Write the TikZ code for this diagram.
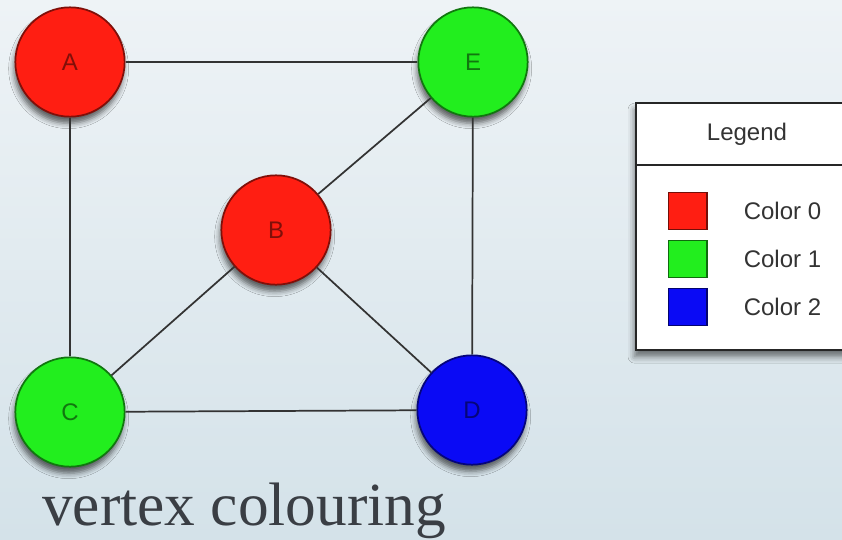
\documentclass[tikz,border=0pt]{standalone}
\usepackage{fontspec}
\setmainfont{Liberation Serif}
\setsansfont{Liberation Sans}
\usetikzlibrary{positioning,shadows.blur}

\definecolor{vred}{RGB}{255,30,18}
\definecolor{vgreen}{RGB}{34,238,30}
\definecolor{vblue}{RGB}{10,10,245}
\definecolor{bgtop}{RGB}{238,243,246}
\definecolor{bgbot}{RGB}{212,226,233}
\definecolor{inkgrey}{RGB}{58,62,68}

\tikzset{
	vertex/.style={circle,draw=#1!50!black,fill=#1,line width=1.3pt,minimum size=82pt,inner sep=0pt,
		font=\sffamily\fontsize{18}{18}\selectfont,text=#1!50!black,
		blur shadow={shadow xshift=-1pt,shadow yshift=-5pt,shadow blur radius=4pt,shadow opacity=60}},
	link/.style={draw=black!80,line width=1.3pt},
	swatch/.style={draw=#1!45!black,fill=#1,line width=1pt,minimum width=29pt,minimum height=28pt,inner sep=0pt},
	legendtext/.style={font=\sffamily\fontsize{18}{18}\selectfont,text=black!80,inner sep=0pt}
}

\begin{document}
\begin{tikzpicture}[x=0.75pt,y=-0.75pt]
	\clip (0,0) rectangle (842,539);
	\shade[top color=bgtop,bottom color=bgbot] (0,0) rectangle (842,539);

	\node[vertex=vred] (A) at (70,62) {A};
	\node[vertex=vgreen] (E) at (473,62) {E};
	\node[vertex=vred] (B) at (276,230) {B};
	\node[vertex=vgreen] (C) at (70,412) {C};
	\node[vertex=vblue] (D) at (472,410) {D};

	\path[link]
		(A) edge (E)
		(A) edge (C)
		(E) edge (D)
		(C) edge (D)
		(E) edge (B)
		(B) edge (C)
		(B) edge (D);

	\node[draw=black!85,fill=white,line width=1.2pt,minimum width=166.5pt,minimum height=185pt,inner sep=0pt,
		blur shadow={shadow xshift=-1pt,shadow yshift=-5pt,shadow blur radius=5pt,shadow opacity=55}]
		(legend) at (747,226.5) {};
	\node[legendtext] (title) at (747,134) {Legend};
	\draw[black!85,line width=1.8pt] (legend.west |- 0,165) -- (legend.east |- 0,165);

	\foreach \c [count=\n from 0] in {vred,vgreen,vblue}
		\node[swatch=\c] (S\n) at (687.5,211+48*\n) {};
	\foreach \n in {0,1,2}
		\node[legendtext,right=27pt of S\n] (L\n) {Color \n};

	\node[anchor=base west,inner sep=0pt,text=inkgrey,font=\fontsize{46}{46}\selectfont] (caption) at (42,525) {vertex colouring};
\end{tikzpicture}
\end{document}
